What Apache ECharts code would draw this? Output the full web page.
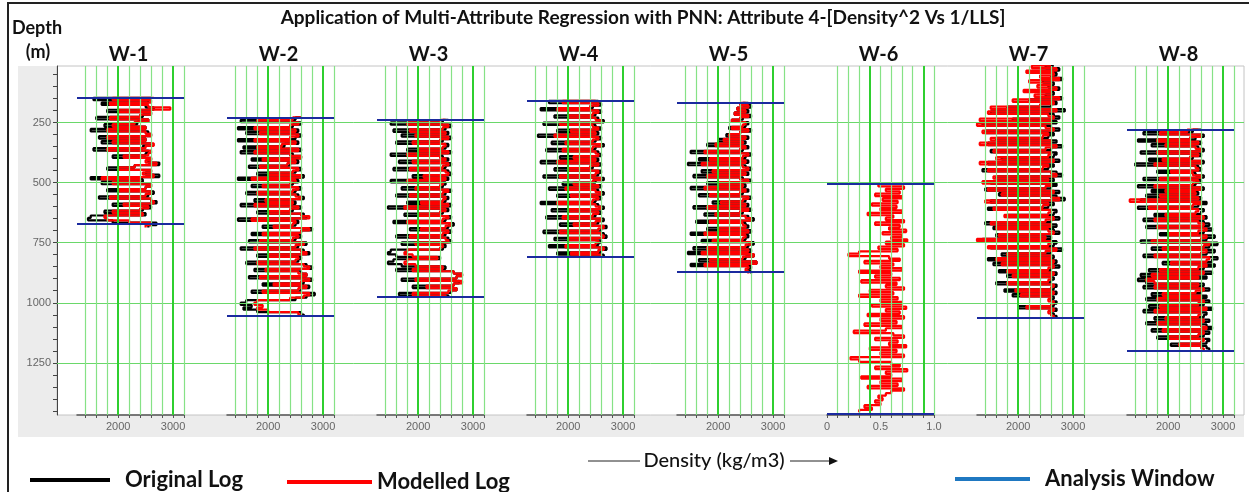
<!DOCTYPE html>
<html><head><meta charset="utf-8">
<script src="https://cdn.jsdelivr.net/npm/echarts@6/dist/echarts.min.js"></script>
<style>html,body{margin:0;padding:0;background:#fff}#c{width:1249px;height:492px}</style>
</head><body><div id="c"></div>
<script>
const chartTitle = 'Application of Multi-Attribute Regression with PNN: Attribute 4-[Density^2 Vs 1/LLS]';
const wells = ['W-1','W-2','W-3','W-4','W-5','W-6','W-7','W-8'];
const depthRange = [15, 1467];
const depthTicks = [50,100,150,200,250,300,350,400,450,500,550,600,650,700,750,800,850,900,950,1000,1050,1100,1150,1200,1250,1300,1350,1400,1450];
const depthLabels = [250,500,750,1000,1250];
const densityRange = [1250, 3200];
const densityTicks = [1400,1600,1800,2000,2200,2400,2600,2800,3000,3200];
const densityLabels = [2000,3000];
const densityBold = [2000,3000];
const fractionRange = [0, 1];
const fractionTicks = [0,0.1,0.2,0.3,0.4,0.5,0.6,0.7,0.8,0.9,1];
const fractionLabels = [0,0.5,1];
const fractionBold = [0.4,0.9];
const fractionWell = 'W-6';
const windowTop  = [147, 229, 239, 160, 168, 506, 14, 280];
const windowBase = [672, 1056, 976, 810, 872, 1460, 1064, 1201];
const logStart   = [147, 229, 239, 160, 168, 506, 14, 280];
const logStep = 10;

const orig1 = [2600,1550,2550,1700,2500,2650,1800,2600,2450,1600,2550,2350,1750,2500,1500,2550,2600,1650,2500,1700,2600,2450,1550,2550,2500,1900,2600,2550,2750,2300,1800,2600,2500,2750,1500,2450,1700,2600,2500,1800,2650,2550,1650,2600,2700,1900,2600,2450,1750,2500,1500,1450,1900,2700,2550];
const model1 = [2650,1900,2600,1850,2550,2950,2000,2600,2400,1850,2550,2300,1900,2500,1800,2500,2600,1800,2500,1900,2650,2500,1800,2600,2550,2100,2600,2500,2700,2300,2000,2600,2450,2650,1700,2400,1900,2600,2500,2000,2600,2500,1850,2600,2650,2100,2550,2400,1900,2450,1750,1800,2200,2600,2500];

const orig2 = [2600,2500,1500,2600,2450,1450,2550,1600,2600,2500,
1450,2550,2300,1550,2600,1500,2450,2600,1700,2550,
2400,1650,2600,2500,1800,2650,1450,2550,2450,1700,
2600,2500,1600,2550,2650,1750,2500,1500,2600,2450,
1800,2650,2700,1450,2550,2500,1900,2800,2600,1700,
2600,2500,1650,2700,2550,1500,2650,2750,1800,2600,
2550,1600,2700,2800,1750,2600,2700,1650,2800,2650,
1900,2750,2600,1700,2850,2700,2500,1600,1500,1700,
1550,1800,2600,2650];
const model2 = [2600,2450,1800,2550,2400,1750,2500,1850,2550,2400,
1750,2500,2250,1800,2550,1750,2400,2600,1900,2500,
2350,1850,2550,2450,2000,2600,1700,2500,2400,1900,
2550,2450,1800,2500,2600,1950,2450,1750,2550,2400,
2000,2600,2750,1700,2500,2450,2100,2750,2600,1900,
2550,2450,1850,2650,2500,1750,2600,2700,2000,2550,
2500,1800,2650,2750,1950,2550,2700,1850,2750,2600,
2100,2700,2550,1900,2750,2650,2400,1800,1750,1900,
1800,2000,2550,2600];

const orig3 = [2550,2450,1500,2600,2500,1550,2550,1700,2600,2450,
1600,2550,2500,1800,2600,1500,2450,2550,1650,2600,
2500,1550,2550,2600,1900,2550,1500,2500,2450,1700,
2600,2500,1600,2550,2500,1800,2600,1450,2550,2450,
1750,2600,2500,1550,2650,2550,1850,2600,2500,1600,
2550,2600,1700,2500,2450,1500,1450,1600,2400,1550,
1450,1700,2500,1600,2650,2800,2700,1700,2750,2650,
1900,2700,2600,1650,2550];
const model3 = [2500,2400,1800,2550,2450,1850,2500,1950,2550,2400,
1900,2500,2450,2000,2550,1800,2400,2500,1900,2550,
2450,1850,2500,2550,2100,2500,1800,2450,2400,1950,
2550,2450,1850,2500,2450,2050,2550,1750,2500,2400,
2000,2550,2450,1800,2600,2500,2050,2550,2450,1850,
2500,2550,1950,2450,2400,1800,1750,1900,2350,1800,
1750,1950,2450,1900,2650,2800,2700,1950,2800,2650,
2150,2700,2550,1900,2500];

const orig4 = [2550,1650,2600,2450,1500,2600,2500,1750,2550,2650,
1550,2500,2600,1800,2550,1450,2600,2500,1700,2650,
2500,1600,2550,2600,1850,2550,1500,2600,2450,1750,
2600,2550,1550,2650,2500,1900,2600,1650,2550,2650,
1800,2600,2500,1500,2550,2650,1700,2600,2500,1600,
2650,2550,1850,2700,2600,1550,2650,2700,1750,2600,
2550,1650,2700,2600,1800,2650];
const model4 = [2500,1900,2550,2400,1800,2550,2450,2000,2500,2600,
1850,2450,2550,2050,2500,1750,2550,2450,1950,2600,
2450,1900,2500,2550,2100,2500,1800,2550,2400,2000,
2550,2500,1850,2600,2450,2100,2550,1950,2500,2600,
2050,2550,2450,1800,2500,2600,2000,2550,2450,1900,
2600,2500,2100,2650,2550,1850,2600,2650,2000,2550,
2500,1950,2650,2550,2050,2600];

const orig5 = [2550,2450,2600,2350,2550,2300,2600,2450,2250,2550,
2500,2200,2600,2400,2150,2550,2000,2500,1800,2550,
2450,1500,2600,2500,1650,2550,1450,2500,2600,1700,
2550,1550,2450,2600,1800,2500,1500,2550,2450,1650,
2600,2500,1900,2550,1550,2600,2450,1750,2550,2650,
1600,2500,2550,1800,2600,1500,2550,2500,1700,2650,
2550,1550,2600,1450,2650,2500,1650,2700,1500,2600,
2550,2600];
const model5 = [2500,2400,2550,2350,2500,2300,2550,2400,2250,2500,
2450,2250,2550,2400,2200,2500,2100,2450,1950,2500,
2400,1750,2550,2450,1850,2500,1700,2450,2550,1900,
2500,1800,2400,2550,2000,2450,1750,2500,2400,1850,
2550,2450,2050,2500,1800,2550,2400,1950,2500,2600,
1850,2450,2500,2000,2550,1750,2500,2450,1900,2600,
2500,1800,2550,1700,2650,2450,1850,2700,1750,2550,
2500,2550];

const orig6 = [];
const model6 = [0.62,0.48,0.72,0.55,0.68,0.45,0.7,0.52,0.66,0.42,
0.65,0.5,0.7,0.38,0.62,0.55,0.72,0.45,0.68,0.58,
0.74,0.52,0.7,0.6,0.75,0.55,0.72,0.48,0.66,0.3,
0.2,0.58,0.68,0.35,0.62,0.5,0.7,0.3,0.6,0.45,
0.68,0.32,0.65,0.55,0.72,0.4,0.62,0.3,0.66,0.5,
0.7,0.42,0.74,0.55,0.68,0.38,0.72,0.5,0.65,0.35,
0.7,0.55,0.25,0.62,0.72,0.45,0.66,0.58,0.74,0.4,
0.65,0.5,0.72,0.22,0.3,0.6,0.68,0.45,0.75,0.55,
0.6,0.32,0.7,0.5,0.66,0.38,0.72,0.6,0.55,0.48,
0.52,0.45,0.5,0.35,0.42,0.3];

const orig7 = [2650,2500,2750,2400,2700,2600,2800,2450,2650,2550,
2750,2350,2650,2500,2800,2200,2700,2600,1800,2850,
1500,2650,2750,1900,2700,1350,2600,2750,1400,2650,
2550,1600,2700,1450,2800,2600,1500,2700,2650,1700,
2750,1450,2650,2550,1350,2700,2800,1600,2650,1500,
2700,2600,1400,2750,1650,2700,2850,1500,2650,2550,
1450,2700,2650,1800,2750,2600,1400,2700,1550,2650,
2750,1600,2600,1350,2700,2650,1500,2800,2600,1700,
2650,1450,2700,1550,2750,2600,1650,2700,1800,2650,
2600,1600,2700,2650,1750,2700,1900,2650,2600,2700,
2650,2000,2700,2600,2650,2700];
const model7 = [2600,2250,2700,2150,2650,2400,2750,2200,2600,2350,
2700,2100,2600,2300,2750,1900,2650,2400,1500,2700,
1450,2550,2650,1300,2600,1250,2500,2650,1350,2550,
2450,1500,2600,1300,2700,2500,1550,2600,2550,1600,
2650,1300,2550,2450,1450,2600,2700,1550,2550,1350,
2600,2500,1450,2650,1700,2600,2750,1400,2550,2450,
1550,2600,2550,1750,2650,2500,1500,2600,1600,2550,
2650,1650,2500,1250,2600,2550,1450,2700,2500,1800,
2600,1600,2650,1700,2650,2550,1800,2650,1900,2600,
2550,1800,2650,2600,1950,2650,2050,2600,2550,2650,
2600,2150,2650,2550,2600,2650];

const orig8 = [2600,2450,1550,2650,2500,1450,2600,1700,2550,2650,
1500,2600,2450,1650,2650,1400,2550,2600,1800,2500,
2650,1550,2600,2500,1450,2650,1700,2550,1600,2600,
1500,2700,2550,1450,2650,2600,1750,2700,1550,2650,
2750,1600,2800,2650,1850,2850,2700,1500,2900,2750,
1700,2850,2700,1550,2900,2800,1900,2850,2650,1650,
2800,1500,2700,1450,1600,2650,1550,2750,2600,1700,
2700,1600,2750,2650,1650,2800,1550,2700,2650,1750,
2750,1600,2700,2800,1700,2750,2650,1800,2750,2700,
2050,2700,2750];
const model8 = [2550,2350,1850,2600,2400,1800,2550,1950,2500,2600,
1800,2550,2400,1900,2600,1750,2500,2550,2050,2450,
2600,1850,2550,2450,1750,2600,1950,2500,1850,2550,
1300,2600,2450,1650,2550,2500,1950,2650,1750,2550,
2650,1800,2700,2550,2000,2700,2600,1700,2750,2650,
1900,2700,2600,1750,2750,2700,2050,2700,2550,1850,
2650,1700,2550,1600,1750,2550,1750,2650,2500,1900,
2600,1800,2650,2550,1850,2700,1750,2600,2550,1950,
2650,1800,2600,2700,1900,2650,2550,2000,2650,2600,
2200,2600,2650];

const originalLogs = [orig1,orig2,orig3,orig4,orig5,orig6,orig7,orig8];
const modelledLogs = [model1,model2,model3,model4,model5,model6,model7,model8];

// ---------- layout ----------
const plotLeft = 57, plotTop = 66, plotW = 1187, plotH = 349;
const panelLeft0 = 77, panelStep = 150, panelW = 107;
const greenThin = '#86e286', greenBold = '#2fcf2f', hGreen = '#6ad86a';
const axisFont = 'Liberation Sans';
const boldFont = 'Lato';

const grids = [{left: plotLeft, top: plotTop, width: plotW, height: plotH}];
const xAxes = [{gridIndex: 0, type: 'value', min: 0, max: 1, show: false}];
const yAxes = [{
  gridIndex: 0, type: 'value', inverse: true, min: depthRange[0], max: depthRange[1],
  axisLine: {show: true, lineStyle: {color: '#444', width: 1}},
  axisTick: {show: true, customValues: depthTicks, length: 4, lineStyle: {color: '#444'}},
  axisLabel: {show: true, customValues: depthLabels, color: '#666', fontSize: 11, fontFamily: axisFont, margin: 6,
    formatter: v => String(v)},
  splitLine: {show: false}
}];
const series = [{
  type: 'line', name: 'hgrid', xAxisIndex: 0, yAxisIndex: 0, data: [], z: 1,
  markLine: {silent: true, symbol: ['none','none'], label: {show: false}, animation: false,
    lineStyle: {color: hGreen, width: 1, type: 'solid'},
    data: depthLabels.map(v => ({yAxis: v}))}
}];

wells.forEach((w, i) => {
  const idx = i + 1;
  const frac = (w === fractionWell);
  const range = frac ? fractionRange : densityRange;
  const ticks = frac ? fractionTicks : densityTicks;
  const labels = frac ? fractionLabels : densityLabels;
  const bold = frac ? fractionBold : densityBold;
  const vlines = frac ? fractionTicks.filter(v => v > 0) : densityTicks;
  grids.push({left: panelLeft0 + panelStep * i, top: plotTop, width: panelW, height: plotH});
  xAxes.push({
    gridIndex: idx, type: 'value', min: range[0], max: range[1], position: 'bottom',
    axisLine: {show: true, lineStyle: {color: '#555', width: 1.5}},
    axisTick: {show: true, customValues: ticks, length: 3, lineStyle: {color: '#555'}},
    axisLabel: {show: true, customValues: labels, color: '#666', fontSize: 11, fontFamily: axisFont, margin: 6,
      formatter: v => (frac && v === 1) ? '1.0' : String(v)},
    splitLine: {show: false}
  });
  yAxes.push({gridIndex: idx, type: 'value', inverse: true, min: depthRange[0], max: depthRange[1], show: false});
  series.push({
    type: 'line', name: 'vgrid' + idx, xAxisIndex: idx, yAxisIndex: idx, data: [], z: 1,
    markLine: {silent: true, symbol: ['none','none'], label: {show: false}, animation: false,
      data: vlines.map(v => ({xAxis: v, lineStyle: bold.includes(v) ? {color: greenBold, width: 2, type: 'solid'} : {color: greenThin, width: 1.2, type: 'solid'}}))}
  });
  const start = logStart[i];
  if (originalLogs[i].length) {
    series.push({
      type: 'line', name: 'Original Log', xAxisIndex: idx, yAxisIndex: idx, z: 3,
      showSymbol: false, symbol: 'none', color: '#000', step: 'end',
      lineStyle: {color: '#000', width: 2.2},
      data: originalLogs[i].map((v, k) => [v, start + k * logStep])
    });
  }
  series.push({
    type: 'line', name: 'Modelled Log', xAxisIndex: idx, yAxisIndex: idx, z: 4,
    showSymbol: false, symbol: 'none', color: '#f00', step: 'end',
    lineStyle: {color: '#f00', width: 2.2},
    data: modelledLogs[i].map((v, k) => [v, start + k * logStep])
  });
  series.push({
    type: 'line', name: 'Analysis Window', xAxisIndex: idx, yAxisIndex: idx, data: [], z: 5,
    color: '#1f78c1', lineStyle: {color: '#1f78c1'},
    markLine: {silent: true, symbol: ['none','none'], label: {show: false}, animation: false,
      lineStyle: {color: '#1a2a9e', width: 2, type: 'solid'},
      data: [{yAxis: windowTop[i]}, {yAxis: windowBase[i]}]}
  });
});

const legendText = {color: '#111', fontSize: 22, fontWeight: 'bold', fontFamily: boldFont};
const legends = [
  {data: ['Original Log'], left: 25, top: 464, icon: 'rect', itemWidth: 80, itemHeight: 4,
   textStyle: Object.assign({}, legendText, {padding: [0,0,0,10]}), selectedMode: false},
  {data: ['Modelled Log'], left: 282, top: 466, icon: 'rect', itemWidth: 85, itemHeight: 4,
   textStyle: Object.assign({}, legendText), selectedMode: false},
  {data: ['Analysis Window'], left: 950, top: 463, icon: 'rect', itemWidth: 75, itemHeight: 4,
   textStyle: Object.assign({}, legendText, {padding: [0,0,0,10]}), selectedMode: false}
];

const graphics = [
  {type: 'rect', z: -20, shape: {x: 8, y: 3, width: 1260, height: 510}, style: {fill: '#fff', stroke: '#222', lineWidth: 2}},
  {type: 'rect', z: -19, shape: {x: 18, y: 66, width: 1226, height: 371}, style: {fill: '#ececec'}},
  {type: 'rect', z: -18, shape: {x: plotLeft, y: plotTop, width: plotW, height: plotH}, style: {fill: '#fff', stroke: '#c4c4c4', lineWidth: 1}},
  {type: 'text', z: 10, x: 643, y: 18, style: {text: chartTitle, fill: '#111', font: 'bold 19px ' + boldFont, textAlign: 'center', textVerticalAlign: 'middle'}},
  {type: 'text', z: 10, x: 37, y: 28, style: {text: 'Depth', fill: '#111', font: 'bold 18px ' + boldFont, textAlign: 'center', textVerticalAlign: 'middle'}},
  {type: 'text', z: 10, x: 38, y: 52, style: {text: '(m)', fill: '#111', font: 'bold 18px ' + boldFont, textAlign: 'center', textVerticalAlign: 'middle'}},
  {type: 'line', z: 10, shape: {x1: 588, y1: 461, x2: 640, y2: 461}, style: {stroke: '#222', lineWidth: 1}},
  {type: 'text', z: 10, x: 714, y: 461, style: {text: 'Density (kg/m3)', fill: '#111', font: '500 20px ' + boldFont, textAlign: 'center', textVerticalAlign: 'middle'}},
  {type: 'line', z: 10, shape: {x1: 790, y1: 461, x2: 830, y2: 461}, style: {stroke: '#222', lineWidth: 1}},
  {type: 'polygon', z: 10, shape: {points: [[829,457],[838,461],[829,465]]}, style: {fill: '#111'}}
];
wells.forEach((w, i) => {
  graphics.push({type: 'text', z: 10, x: panelLeft0 + panelStep * i + panelW / 2 - 2, y: 55,
    style: {text: w, fill: '#111', font: 'bold 20px ' + boldFont, textAlign: 'center', textVerticalAlign: 'middle'}});
});

const chart = echarts.init(document.getElementById('c'), null, {renderer: 'canvas'});
chart.setOption({
  animation: false,
  backgroundColor: '#fff',
  grid: grids, xAxis: xAxes, yAxis: yAxes,
  legend: legends,
  graphic: graphics,
  series: series
});
</script></body></html>
